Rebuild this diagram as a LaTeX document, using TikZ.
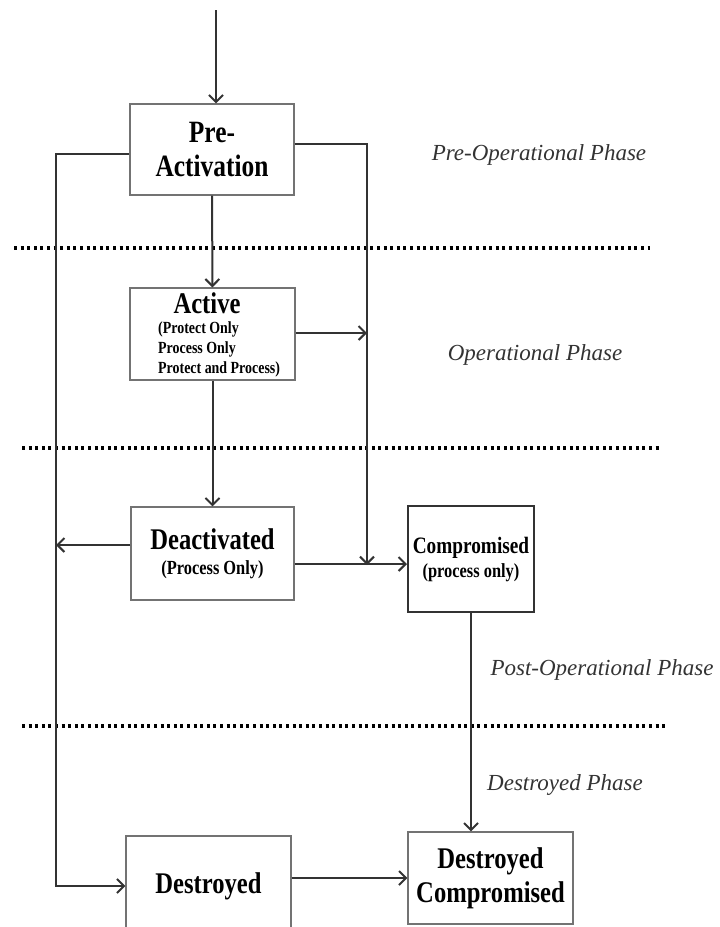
\documentclass[tikz,border=0pt]{standalone}
\usepackage{fontspec}
\setmainfont{Liberation Serif}[FakeStretch=0.82]
\newfontfamily\phasefont{Liberation Serif}
\usetikzlibrary{arrows.meta}

\tikzset{
  box/.style={draw=black!55, line width=1.2pt, align=center, inner sep=0pt,
    minimum width=165pt, minimum height=92pt},
  link/.style={line width=2pt, draw=black!80},
  arr/.style={link, -{Straight Barb[length=7pt,width=14pt,line width=2pt]}},
  dotrule/.style={line width=3.5pt, dash pattern=on 3pt off 3.6pt},
  phase/.style={font=\phasefont\itshape\fontsize{23}{26}\selectfont, text=black!80}
}

\begin{document}
\begin{tikzpicture}[x=1pt,y=-1pt]
\useasboundingbox (0,0) rectangle (720,927);

\node[box, minimum width=164pt, minimum height=91pt,
  font=\bfseries\fontsize{31}{34}\selectfont] (pre) at (212,149.5) {Pre-\\Activation};
\node[box] (act) at (212.5,334) {};
\node[inner sep=0pt, font=\bfseries\fontsize{30}{30}\selectfont] (acttitle) at (207,303) {Active};
\node[anchor=north west, align=left, inner sep=0pt,
  font=\bfseries\fontsize{17}{20}\selectfont] (actlist) at (158,321)
  {(Protect Only\\Process Only\\Protect and Process)};
\node[box, minimum width=163pt, minimum height=93pt,
  font=\bfseries\fontsize{20}{25}\selectfont] (deact) at (212.5,553.5)
  {{\fontsize{30}{30}\selectfont Deactivated}\\(Process Only)};
\node[box, draw=black!80, line width=2pt, minimum width=126pt, minimum height=106pt,
  font=\bfseries\fontsize{20}{24}\selectfont] (comp) at (471,559)
  {{\fontsize{23.5}{24}\selectfont Compromised}\\(process only)};
\node[box, minimum height=100pt, font=\bfseries\fontsize{30}{34}\selectfont]
  (dest) at (208.5,886) {Destroyed};
\node[box, font=\bfseries\fontsize{30}{34}\selectfont]
  (destc) at (490.5,878) {Destroyed\\Compromised};

\node[phase] (ph1) at (539,155) {Pre-Operational Phase};
\node[phase] (ph2) at (535,355) {Operational Phase};
\node[phase] (ph3) at (602,670) {Post-Operational Phase};
\node[phase] (ph4) at (565,785) {Destroyed Phase};

\draw[dotrule] (14,248) -- (650,248);
\draw[dotrule] (22,448) -- (660,448);
\draw[dotrule] (22,726) -- (668,726);

\coordinate (start) at (216,10);
\coordinate (lt) at (56,154);
\coordinate (rt) at (367,144);
\coordinate (jn) at (367,564);

\draw[arr] (start) -- (start |- pre.north);
\draw[arr] (pre) -- (act);
\draw[arr] (act) -- (deact);
\draw[arr] (pre.west |- lt) -- (lt) |- (dest.west);
\draw[link] (pre.east |- rt) -- (rt) -- ([yshift=3pt]jn);
\draw[arr] (rt) -- ([yshift=-1pt]jn);
\draw[arr] (act.east |- 0,333) -- (rt |- 0,333);
\draw[arr] (deact.west |- 0,545) -- (lt |- 0,545);
\draw[arr] (deact.east |- jn) -- (comp.west |- jn);
\draw[arr] (comp.south) -- (comp.south |- destc.north);
\draw[arr] (dest.east |- destc.west) -- (destc.west);
\end{tikzpicture}
\end{document}
